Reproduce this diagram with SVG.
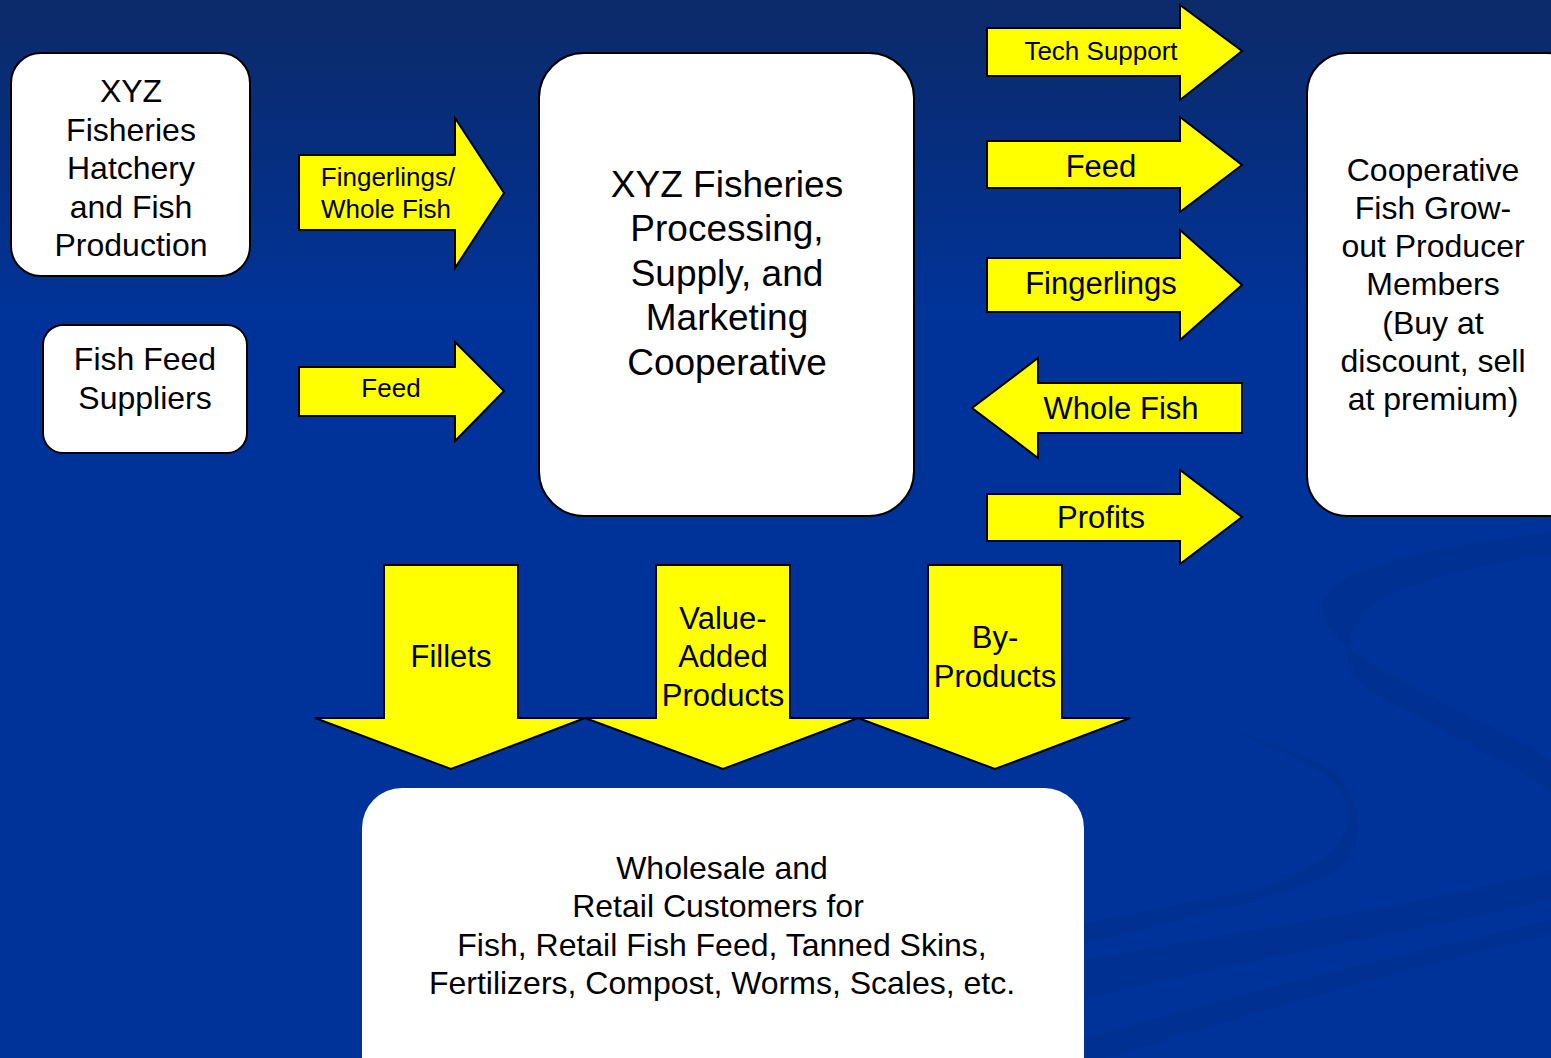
<svg xmlns="http://www.w3.org/2000/svg" width="1551" height="1058" viewBox="0 0 1551 1058">
<style>
.box{fill:#ffffff;stroke:#000000;stroke-width:2}
.arr{fill:#ffff00;stroke:#000000;stroke-width:2;stroke-linejoin:miter}
text{font-family:"Liberation Sans",Arial,sans-serif;fill:#000000;text-anchor:middle}
.t32{font-size:32px}
.t37{font-size:37px}
.t26{font-size:26px}
.t31{font-size:31px}
.sw{fill:#002f8c;opacity:0.6}
</style>
<defs>
<linearGradient id="bg" x1="0" y1="0" x2="0" y2="1">
<stop offset="0" stop-color="#0c2a68"/>
<stop offset="0.3" stop-color="#003399"/>
<stop offset="1" stop-color="#003399"/>
</linearGradient>
</defs>
<rect x="0" y="0" width="1551" height="1058" fill="url(#bg)"/>
<g id="swirls">
<path class="sw" d="M1551,532 C1450,545 1360,560 1330,590 C1310,615 1330,645 1400,680 C1460,710 1520,740 1551,760 L1551,790 C1500,760 1420,720 1370,690 C1330,665 1350,620 1380,600 C1420,578 1500,560 1551,555 Z"/>
<path class="sw" d="M1080,690 C1200,720 1310,750 1340,790 C1365,830 1330,870 1250,890 C1180,905 1120,915 1080,925 L1080,945 C1160,925 1250,905 1320,880 C1370,860 1370,800 1330,770 C1280,740 1180,715 1080,690 Z"/>
<path class="sw" d="M1080,960 C1250,930 1420,905 1551,870 L1551,900 C1420,930 1250,960 1080,1000 Z"/>
<path class="sw" d="M1080,1040 C1250,990 1420,950 1551,920 L1551,935 C1420,965 1260,1010 1110,1058 L1080,1058 Z"/>
</g>
<g id="connectors">
<g id="arrow-fingerlings-wholefish">
<polygon class="arr" points="299,155 455,155 455,118 504,193 455,268 455,230 299,230"/>
<text class="t26" x="388" y="186">Fingerlings/</text>
<text class="t26" x="386" y="218">Whole Fish</text>
</g>
<g id="arrow-feed-left">
<polygon class="arr" points="299,367 455,367 455,342 504,391 455,441 455,416 299,416"/>
<text class="t26" x="391" y="397">Feed</text>
</g>
<g id="arrow-tech">
<polygon class="arr" points="987,28 1180,28 1180,5 1242,51 1180,100 1180,76 987,76"/>
<text class="t26" x="1101" y="60">Tech Support</text>
</g>
<g id="arrow-feed-right">
<polygon class="arr" points="987,141 1180,141 1180,117 1242,165 1180,212 1180,188 987,188"/>
<text class="t31" x="1101" y="177">Feed</text>
</g>
<g id="arrow-fingerlings">
<polygon class="arr" points="987,258 1180,258 1180,230 1242,285 1180,340 1180,312 987,312"/>
<text class="t31" x="1101" y="294">Fingerlings</text>
</g>
<g id="arrow-wholefish">
<polygon class="arr" points="972,408 1038,358 1038,383 1242,383 1242,433 1038,433 1038,458"/>
<text class="t31" x="1121" y="419">Whole Fish</text>
</g>
<g id="arrow-profits">
<polygon class="arr" points="987,494 1180,494 1180,470 1242,517 1180,564 1180,541 987,541"/>
<text class="t31" x="1101" y="528">Profits</text>
</g>
<g id="arrow-fillets">
<polygon class="arr" points="384,565 518,565 518,718 585,718 451,769 315,718 384,718"/>
<text class="t31" x="451" y="667">Fillets</text>
</g>
<g id="arrow-value">
<polygon class="arr" points="656,565 790,565 790,718 858,718 723,769 585,718 656,718"/>
<text class="t31" x="723" y="629">Value-</text>
<text class="t31" x="723" y="667">Added</text>
<text class="t31" x="723" y="706">Products</text>
</g>
<g id="arrow-byproducts">
<polygon class="arr" points="928,565 1062,565 1062,718 1130,718 995,769 858,718 928,718"/>
<text class="t31" x="995" y="648">By-</text>
<text class="t31" x="995" y="687">Products</text>
</g>
</g>
<g id="node-hatchery">
<rect class="box" x="11" y="53" width="239" height="223" rx="30"/>
<text class="t32" x="131" y="102">XYZ</text>
<text class="t32" x="131" y="141">Fisheries</text>
<text class="t32" x="131" y="179">Hatchery</text>
<text class="t32" x="131" y="218">and Fish</text>
<text class="t32" x="131" y="256">Production</text>
</g>
<g id="node-feed-suppliers">
<rect class="box" x="43" y="325" width="204" height="128" rx="20"/>
<text class="t32" x="145" y="370">Fish Feed</text>
<text class="t32" x="145" y="409">Suppliers</text>
</g>
<g id="node-cooperative">
<rect class="box" x="539" y="53" width="375" height="463" rx="45"/>
<text class="t37" x="727" y="197">XYZ Fisheries</text>
<text class="t37" x="727" y="241">Processing,</text>
<text class="t37" x="727" y="286">Supply, and</text>
<text class="t37" x="727" y="330">Marketing</text>
<text class="t37" x="727" y="375">Cooperative</text>
</g>
<g id="node-members">
<rect class="box" x="1307" y="53" width="280" height="463" rx="40"/>
<text class="t32" x="1433" y="181">Cooperative</text>
<text class="t32" x="1433" y="219">Fish Grow-</text>
<text class="t32" x="1433" y="257">out Producer</text>
<text class="t32" x="1433" y="295">Members</text>
<text class="t32" x="1433" y="334">(Buy at</text>
<text class="t32" x="1433" y="372">discount, sell</text>
<text class="t32" x="1433" y="410">at premium)</text>
</g>
<g id="node-customers">
<rect x="362" y="788" width="722" height="320" rx="40" fill="#ffffff"/>
<text class="t32" x="722" y="879">Wholesale and</text>
<text class="t32" x="718" y="917">Retail Customers for</text>
<text class="t32" x="722" y="956">Fish, Retail Fish Feed, Tanned Skins,</text>
<text class="t32" x="722" y="994">Fertilizers, Compost, Worms, Scales, etc.</text>
</g>
</svg>
